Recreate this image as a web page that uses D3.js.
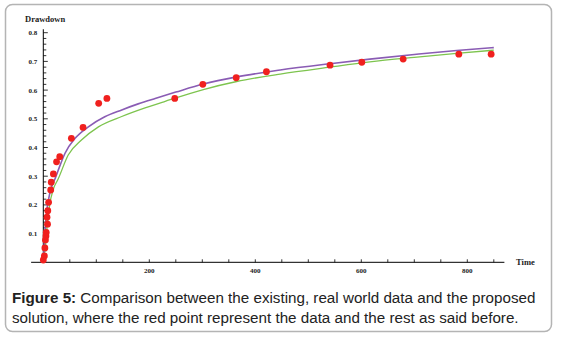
<!DOCTYPE html>
<html>
<head>
<meta charset="utf-8">
<script src="https://cdn.jsdelivr.net/npm/d3@7"></script>
<style>
  body { margin: 0; background: #fff; }
  .tick-label { font-family: "Liberation Serif", "DejaVu Serif", serif; font-weight: bold; font-size: 7px; fill: #222; }
  .axis-title { font-family: "Liberation Serif", "DejaVu Serif", serif; font-weight: bold; font-size: 8.5px; fill: #222; }
  .caption { font-family: "Liberation Sans", Arial, sans-serif; font-size: 15.2px; fill: #222; }
</style>
</head>
<body>
<svg id="chart" width="562" height="337"></svg>
<script>
// measured drawdown (red points)
const dataTime = [0, 2, 3, 4, 5, 5.5, 8, 7, 8.5, 10, 14, 15, 19, 25, 31, 53, 75, 104.5, 120, 248, 301, 364, 421, 541, 601, 679, 784, 845];
const dataDrawdown = [0.008, 0.022, 0.05, 0.078, 0.092, 0.104, 0.133, 0.157, 0.18, 0.209, 0.252, 0.279, 0.308, 0.35, 0.368, 0.432, 0.47, 0.554, 0.571, 0.571, 0.62, 0.643, 0.664, 0.687, 0.697, 0.708, 0.725, 0.725];

// model curves
const purpleTime = [0, 3, 6, 10, 15, 22, 30, 41, 60, 85, 116, 148, 179, 211, 250, 302, 365, 447, 541, 616, 700, 780, 850];
const purpleDrawdown = [0, 0.1, 0.17, 0.22, 0.26, 0.29, 0.33, 0.38, 0.432, 0.472, 0.507, 0.531, 0.552, 0.571, 0.593, 0.621, 0.646, 0.67, 0.692, 0.708, 0.724, 0.738, 0.748];

const greenTime = [0, 4, 8, 12, 19, 28, 47, 72, 104, 148, 192, 230, 302, 365, 447, 541, 616, 700, 780, 850];
const greenDrawdown = [0, 0.06, 0.14, 0.2, 0.255, 0.29, 0.374, 0.426, 0.472, 0.508, 0.538, 0.561, 0.602, 0.63, 0.656, 0.68, 0.698, 0.714, 0.728, 0.739];

const xTickLabels = [200, 400, 600, 800];
const yTickLabels = [0.1, 0.2, 0.3, 0.4, 0.5, 0.6, 0.7, 0.8];

const svg = d3.select("#chart");

// frame
svg.append("rect")
    .attr("x", 5.5).attr("y", 4.5)
    .attr("width", 546).attr("height", 327)
    .attr("rx", 7).attr("ry", 7)
    .attr("fill", "none")
    .attr("stroke", "#b4b4b4")
    .attr("stroke-width", 1.5);

const x = d3.scaleLinear().domain([0, 800]).range([43.3, 467.3]);
const y = d3.scaleLinear().domain([0, 0.8]).range([262.3, 32.7]);

const axisG = svg.append("g");

// x axis line and ticks
axisG.append("line")
    .attr("x1", x(-23)).attr("x2", x(870))
    .attr("y1", y(0)).attr("y2", y(0))
    .attr("stroke", "#000").attr("stroke-width", 1);

axisG.selectAll(".xtick")
    .data(d3.range(50, 851, 50))
    .enter().append("line")
    .attr("x1", d => x(d)).attr("x2", d => x(d))
    .attr("y1", y(0)).attr("y2", y(0) - 3)
    .attr("stroke", "#000").attr("stroke-width", 0.8);

axisG.selectAll(".xlabel")
    .data(xTickLabels)
    .enter().append("text")
    .attr("class", "tick-label")
    .attr("x", d => x(d))
    .attr("y", y(0) + 11)
    .attr("text-anchor", "middle")
    .text(d => d);

// y axis line and ticks
axisG.append("line")
    .attr("x1", x(0)).attr("x2", x(0))
    .attr("y1", y(0)).attr("y2", y(0.812))
    .attr("stroke", "#000").attr("stroke-width", 1);

axisG.selectAll(".ytick")
    .data(d3.range(1, 41).map(i => i * 0.02))
    .enter().append("line")
    .attr("x1", x(0))
    .attr("x2", (d, i) => x(0) + ((i + 1) % 5 === 0 ? 4.5 : 3))
    .attr("y1", d => y(d)).attr("y2", d => y(d))
    .attr("stroke", "#000").attr("stroke-width", 0.8);

axisG.selectAll(".ylabel")
    .data(yTickLabels)
    .enter().append("text")
    .attr("class", "tick-label")
    .attr("x", x(0) - 6)
    .attr("y", d => y(d) + 2.5)
    .attr("text-anchor", "end")
    .text(d => d3.format(".1f")(d));

svg.append("text").attr("class", "axis-title")
    .attr("x", 25).attr("y", 22)
    .text("Drawdown");

svg.append("text").attr("class", "axis-title")
    .attr("x", 516).attr("y", 265)
    .text("Time");

// curves
const line = d3.line().curve(d3.curveMonotoneX);

svg.append("path")
    .attr("d", line(greenTime.map((t, i) => [x(t), y(greenDrawdown[i])])))
    .attr("fill", "none")
    .attr("stroke", "#7dc44e")
    .attr("stroke-width", 1.3);

svg.append("path")
    .attr("d", line(purpleTime.map((t, i) => [x(t), y(purpleDrawdown[i])])))
    .attr("fill", "none")
    .attr("stroke", "#8a5cb4")
    .attr("stroke-width", 1.6);

// data points
svg.selectAll(".pt")
    .data(dataTime)
    .enter().append("circle")
    .attr("cx", d => x(d))
    .attr("cy", (d, i) => y(dataDrawdown[i]))
    .attr("r", 3.4)
    .attr("fill", "#f0201e");

// caption
const cap = svg.append("text").attr("class", "caption");
cap.append("tspan").attr("x", 12).attr("y", 303)
    .attr("font-weight", "bold").text("Figure 5:");
cap.append("tspan").text(" Comparison between the existing, real world data and the proposed");
svg.append("text").attr("class", "caption")
    .attr("x", 12).attr("y", 323)
    .text("solution, where the red point represent the data and the rest as said before.");
</script>
</body>
</html>
